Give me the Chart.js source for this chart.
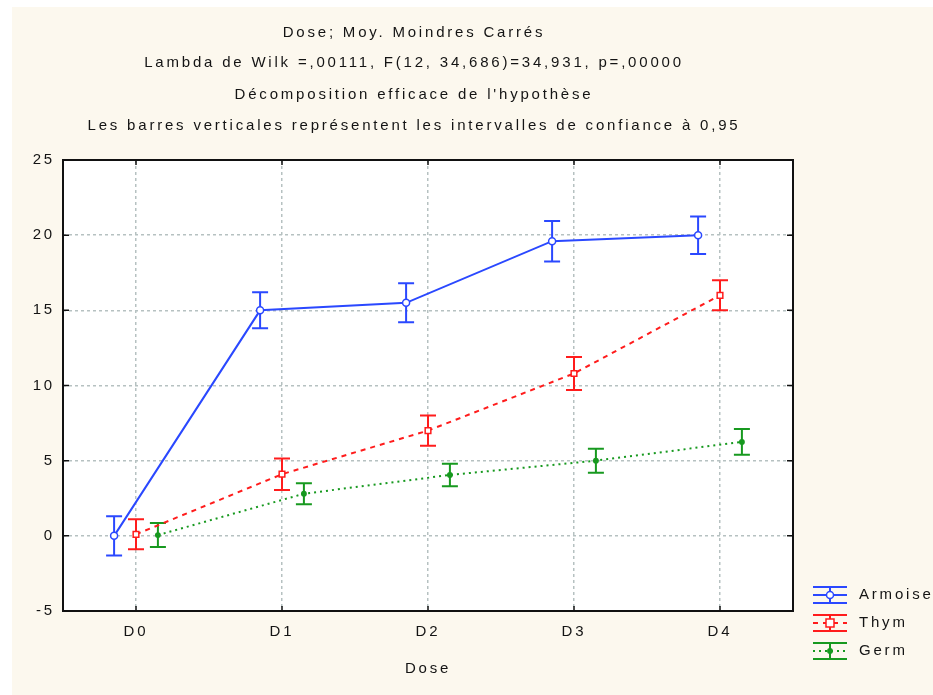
<!DOCTYPE html>
<html>
<head>
<meta charset="utf-8">
<title>Dose; Moy. Moindres Carrés</title>
<script src="https://cdn.jsdelivr.net/npm/chart.js@4.4.1/dist/chart.umd.min.js"></script>
<style>
  html, body { margin: 0; padding: 0; background: #fff; }
  #plot { display: block; }
</style>
</head>
<body>
<canvas id="plot" width="933" height="695"></canvas>
<script>
// doses along the x axis
const doses = ['D0', 'D1', 'D2', 'D3', 'D4'];

// least-squares means per extract
const armoise = [0.0, 15.0, 15.5, 19.6, 20.0];
const thym = [0.1, 4.1, 7.0, 10.8, 16.0];
const germ = [0.05, 2.8, 4.05, 5.0, 6.25];

// half width of the 0.95 confidence intervals
const armoiseCi = [1.3, 1.2, 1.3, 1.35, 1.25];
const thymCi = [1.0, 1.05, 1.0, 1.1, 1.0];
const germCi = [0.8, 0.7, 0.75, 0.8, 0.85];

const yTicks = [-5, 0, 5, 10, 15, 20, 25];

const titleLines = [
  'Dose; Moy. Moindres Carrés',
  'Lambda de Wilk =,00111, F(12, 34,686)=34,931, p=,00000',
  'Décomposition efficace de l\'hypothèse',
  'Les barres verticales représentent les intervalles de confiance à 0,95'
];

const FONT = '"Liberation Sans", Arial, sans-serif';
const SIZE = 15;
const INK = '#141414';
const GRID = '#b6c1c1';

// one line per extract, shifted a little left / right of the dose so the bars don't overlap
function series(label, values, ci, shift, color, dash, marker) {
  return {
    label: label,
    data: values.map((v, i) => ({ x: i + shift, y: v })),
    ci: ci,
    borderColor: color,
    borderWidth: 2,
    borderDash: dash,
    tension: 0,
    fill: false,
    pointStyle: marker.style,
    pointRadius: marker.r,
    pointBackgroundColor: marker.fill,
    pointBorderColor: color,
    pointBorderWidth: 1.5
  };
}

const datasets = [
  series('Armoise', armoise, armoiseCi, -0.15, '#2a48ff', [], { style: 'circle', r: 3.5, fill: '#fff' }),
  series('Thym', thym, thymCi, 0, '#ff1c1c', [5, 5], { style: 'rect', r: 4, fill: '#fff' }),
  series('Germ', germ, germCi, 0.15, '#17991f', [2, 4], { style: 'circle', r: 2.2, fill: '#17991f' })
];

// cream page, white plot area, spaced lettering
const backdrop = {
  id: 'backdrop',
  beforeDraw(chart) {
    const { ctx, chartArea: a } = chart;
    ctx.save();
    ctx.fillStyle = '#fff';
    ctx.fillRect(0, 0, chart.width, chart.height);
    ctx.fillStyle = '#fcf8ee';
    ctx.fillRect(12, 7, chart.width - 12, chart.height - 7);
    ctx.fillStyle = '#fff';
    ctx.fillRect(a.left, a.top, a.right - a.left, a.bottom - a.top);
    ctx.restore();
    ctx.letterSpacing = '2.8px';
  }
};

// vertical confidence bars with caps
const errorBars = {
  id: 'errorBars',
  beforeDatasetsDraw(chart) {
    const { ctx, scales: { x, y } } = chart;
    chart.data.datasets.forEach(ds => {
      ctx.save();
      ctx.strokeStyle = ds.borderColor;
      ctx.lineWidth = 2;
      ds.data.forEach((p, i) => {
        const px = x.getPixelForValue(p.x);
        const top = y.getPixelForValue(p.y + ds.ci[i]);
        const bot = y.getPixelForValue(p.y - ds.ci[i]);
        ctx.beginPath();
        ctx.moveTo(px, top); ctx.lineTo(px, bot);
        ctx.moveTo(px - 8, top); ctx.lineTo(px + 8, top);
        ctx.moveTo(px - 8, bot); ctx.lineTo(px + 8, bot);
        ctx.stroke();
      });
      ctx.restore();
    });
  }
};

// frame, inward ticks, header lines and the legend
const decorations = {
  id: 'decorations',
  afterDraw(chart) {
    const { ctx, chartArea: a, scales: { x, y } } = chart;
    ctx.save();
    ctx.strokeStyle = '#111';
    ctx.lineWidth = 2;
    ctx.strokeRect(a.left, a.top, a.right - a.left, a.bottom - a.top);
    ctx.lineWidth = 1.5;
    ctx.beginPath();
    yTicks.forEach(v => {
      const py = y.getPixelForValue(v);
      ctx.moveTo(a.left, py); ctx.lineTo(a.left + 6, py);
      ctx.moveTo(a.right, py); ctx.lineTo(a.right - 6, py);
    });
    doses.forEach((d, i) => {
      const px = x.getPixelForValue(i);
      ctx.moveTo(px, a.top); ctx.lineTo(px, a.top + 5);
      ctx.moveTo(px, a.bottom); ctx.lineTo(px, a.bottom - 5);
    });
    ctx.stroke();

    ctx.fillStyle = INK;
    ctx.font = SIZE + 'px ' + FONT;
    ctx.textAlign = 'center';
    ctx.textBaseline = 'middle';
    const headY = [33, 63, 95, 126];
    titleLines.forEach((t, i) => ctx.fillText(t, 414, headY[i]));

    chart.data.datasets.forEach((ds, i) => {
      const cy = 595 + i * 28;
      const cx = 830;
      ctx.strokeStyle = ds.borderColor;
      ctx.lineWidth = 2;
      ctx.beginPath();
      ctx.moveTo(cx - 17, cy - 8); ctx.lineTo(cx + 17, cy - 8);
      ctx.moveTo(cx - 17, cy + 8); ctx.lineTo(cx + 17, cy + 8);
      ctx.moveTo(cx, cy - 8); ctx.lineTo(cx, cy + 8);
      ctx.stroke();
      ctx.setLineDash(ds.borderDash);
      ctx.beginPath();
      ctx.moveTo(cx - 17, cy); ctx.lineTo(cx + 17, cy);
      ctx.stroke();
      ctx.setLineDash([]);
      ctx.fillStyle = ds.pointBackgroundColor;
      ctx.lineWidth = 1.5;
      const r = ds.pointRadius;
      ctx.beginPath();
      if (ds.pointStyle === 'rect') ctx.rect(cx - r, cy - r, 2 * r, 2 * r);
      else ctx.arc(cx, cy, r, 0, Math.PI * 2);
      ctx.fill();
      ctx.stroke();
      ctx.fillStyle = INK;
      ctx.textAlign = 'left';
      ctx.fillText(ds.label, 859, cy);
    });
    ctx.restore();
  }
};

const chart = new Chart(document.getElementById('plot'), {
  type: 'line',
  data: { datasets: datasets },
  options: {
    responsive: false,
    animation: false,
    layout: { padding: { left: 12, top: 160, right: 140, bottom: 0 } },
    plugins: {
      legend: { display: false },
      title: { display: false },
      tooltip: { enabled: false }
    },
    scales: {
      x: {
        type: 'linear',
        min: -0.5,
        max: 4.5,
        afterBuildTicks: axis => { axis.ticks = doses.map((d, i) => ({ value: i })); },
        afterFit: axis => { axis.height = 84; },
        ticks: {
          callback: v => doses[v],
          autoSkip: false,
          maxRotation: 0,
          padding: 12,
          color: INK,
          font: { family: FONT, size: SIZE }
        },
        grid: { color: GRID, lineWidth: 1.5, drawTicks: false },
        border: { display: false, dash: [3, 3] },
        title: {
          display: true,
          text: 'Dose',
          color: INK,
          font: { family: FONT, size: SIZE },
          padding: { top: 4, bottom: 17 }
        }
      },
      y: {
        min: -5,
        max: 25,
        afterBuildTicks: axis => { axis.ticks = yTicks.map(v => ({ value: v })); },
        afterFit: axis => { axis.width = 51; },
        ticks: {
          padding: 8,
          color: INK,
          font: { family: FONT, size: SIZE }
        },
        grid: { color: GRID, lineWidth: 1.5, drawTicks: false },
        border: { display: false, dash: [3, 3] }
      }
    }
  },
  plugins: [backdrop, errorBars, decorations]
});
</script>
</body>
</html>
